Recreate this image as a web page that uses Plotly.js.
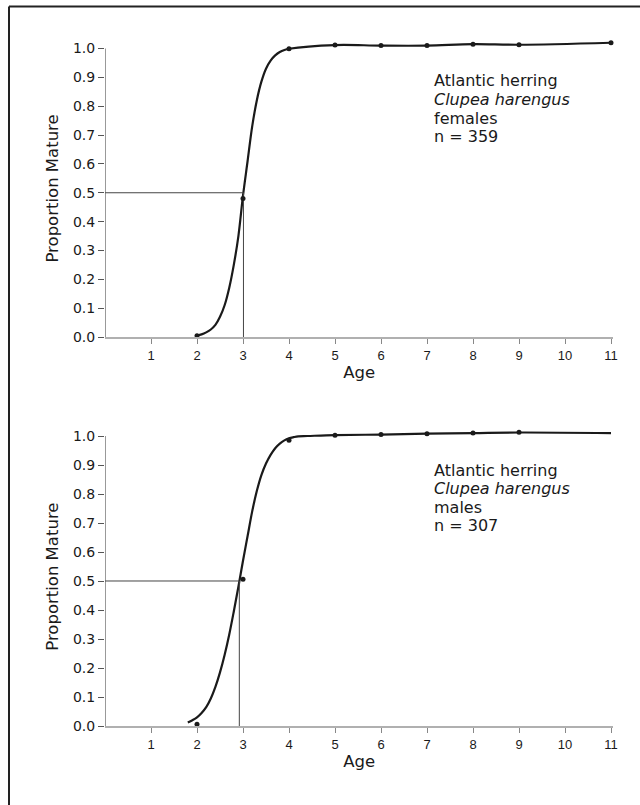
<!DOCTYPE html>
<html><head><meta charset="utf-8">
<script src="https://cdn.plot.ly/plotly-3.0.1.min.js"></script>
<style>html,body{margin:0;padding:0;background:#fff}</style>
</head><body><div id="chart" style="width:640px;height:805px"></div>
<script>
// ---- data ----
const ageTicks = [1,2,3,4,5,6,7,8,9,10,11];
const propTicks = [0,0.1,0.2,0.3,0.4,0.5,0.6,0.7,0.8,0.9,1.0];
const propTickLabels = ['0.0','0.1','0.2','0.3','0.4','0.5','0.6','0.7','0.8','0.9','1.0'];

// females (top panel): observed proportions
const femaleAge  = [2, 3, 4, 5, 6, 7, 8, 9, 11];
const femaleProp = [0.004, 0.48, 0.999, 1.012, 1.010, 1.010, 1.015, 1.013, 1.02];
// fitted maturity curve
const femaleFitAge  = [2.0, 2.1, 2.2, 2.3, 2.4, 2.5, 2.6, 2.7, 2.8, 2.9, 3.0, 3.1, 3.2, 3.3, 3.4, 3.5, 3.6, 3.7, 3.8, 3.9, 4.0, 5, 6, 7, 8, 9, 11];
const femaleFitProp = [0.005, 0.009, 0.016, 0.026, 0.042, 0.07, 0.11, 0.17, 0.25, 0.35, 0.49, 0.61, 0.73, 0.82, 0.885, 0.93, 0.958, 0.976, 0.988, 0.995, 0.999, 1.012, 1.010, 1.010, 1.015, 1.013, 1.02];
const femaleA50 = 3.01;
const femaleLabel = ['Atlantic herring', '<i>Clupea harengus</i>', 'females', 'n = 359'];

// males (bottom panel): observed proportions
const maleAge  = [2, 3, 4, 5, 6, 7, 8, 9];
const maleProp = [0.006, 0.506, 0.985, 1.003, 1.005, 1.008, 1.010, 1.013];
// fitted maturity curve
const maleFitAge  = [1.8, 1.9, 2.0, 2.1, 2.2, 2.3, 2.4, 2.5, 2.6, 2.7, 2.8, 2.9, 3.0, 3.1, 3.2, 3.3, 3.4, 3.5, 3.6, 3.7, 3.8, 3.9, 4.0, 4.1, 4.2, 4.4, 5, 6, 7, 8, 9, 11];
const maleFitProp = [0.012, 0.02, 0.03, 0.045, 0.065, 0.095, 0.135, 0.185, 0.245, 0.315, 0.395, 0.48, 0.57, 0.655, 0.74, 0.81, 0.865, 0.905, 0.935, 0.958, 0.974, 0.985, 0.992, 0.996, 0.999, 1.0, 1.003, 1.005, 1.008, 1.010, 1.012, 1.01];
const maleA50 = 2.92;
const maleLabel = ['Atlantic herring', '<i>Clupea harengus</i>', 'males', 'n = 307'];

const halfMature = 0.5;

// ---- styling ----
const FONT = 'DejaVu Sans, Liberation Sans, Arial, sans-serif';
const XFONT = 'Liberation Sans, Arial, Helvetica, sans-serif';
const INK = '#1a1a1a';

function panelTraces(fitX, fitY, ptX, ptY, a50, xa, ya) {
  return [
    {x: fitX, y: fitY, xaxis: xa, yaxis: ya, mode: 'lines', type: 'scatter',
     line: {color: INK, width: 2.2, shape: 'spline', smoothing: 1}, hoverinfo: 'skip'},
    {x: [0, a50, a50], y: [halfMature, halfMature, 0], xaxis: xa, yaxis: ya, mode: 'lines', type: 'scatter',
     line: {color: '#444', width: 1}, hoverinfo: 'skip'},
    {x: ptX, y: ptY, xaxis: xa, yaxis: ya, mode: 'markers', type: 'scatter', cliponaxis: false,
     marker: {color: INK, size: 5}}
  ];
}

const data = [
  ...panelTraces(femaleFitAge, femaleFitProp, femaleAge, femaleProp, femaleA50, 'x', 'y'),
  ...panelTraces(maleFitAge, maleFitProp, maleAge, maleProp, maleA50, 'x2', 'y2')
];

const xDomain = [105/640, (105 + 11.05*46)/640];
const yRange = [0, 1.03];
const topDom = [1 - 337/805, 1 - (337 - 1.03*288.5)/805];
const botDom = [1 - 726/805, 1 - (726 - 1.03*290)/805];

function xAxis(anchor) {
  return {
    domain: xDomain, anchor: anchor, range: [0, 11.05],
    tickmode: 'array', tickvals: ageTicks,
    ticks: 'outside', ticklen: 5, tickcolor: '#888', tickwidth: 1,
    showline: true, linecolor: '#b0b0b0', linewidth: 2,
    showgrid: false, zeroline: false,
    tickfont: {family: XFONT, size: 13, color: INK},
    title: {text: 'Age', font: {family: FONT, size: 16.5, color: INK}, standoff: 5}
  };
}
function yAxis(anchor, dom) {
  return {
    domain: dom, anchor: anchor, range: yRange,
    tickmode: 'array', tickvals: propTicks, ticktext: propTickLabels,
    ticks: 'outside', ticklen: 6, tickcolor: '#555', tickwidth: 1,
    showline: false, showgrid: false, zeroline: false,
    tickfont: {family: FONT, size: 14, color: INK},
    title: {text: 'Proportion Mature', font: {family: FONT, size: 16.5, color: INK}, standoff: 10}
  };
}

function labelAnns(lines, topPx) {
  return lines.map((t, i) => ({
    text: t, xref: 'paper', yref: 'paper',
    x: 433/640, y: 1 - (topPx + i*18.6)/805,
    xanchor: 'left', yanchor: 'middle', showarrow: false, borderpad: 0,
    font: {family: FONT, size: 16, color: INK}
  }));
}

const layout = {
  width: 640, height: 805,
  margin: {l: 0, r: 0, t: 0, b: 0},
  paper_bgcolor: '#fff', plot_bgcolor: 'rgba(0,0,0,0)',
  showlegend: false,
  xaxis: xAxis('y'), yaxis: yAxis('x', topDom),
  xaxis2: xAxis('y2'), yaxis2: yAxis('x2', botDom),
  annotations: [
    ...labelAnns(femaleLabel, 81),
    ...labelAnns(maleLabel, 470)
  ],
  shapes: [
    // y-axis lines (0 to 1.0)
    {type: 'line', xref: 'x', yref: 'y', x0: 0, x1: 0, y0: 0, y1: 1, line: {color: '#555', width: 1.2}},
    {type: 'line', xref: 'x2', yref: 'y2', x0: 0, x1: 0, y0: 0, y1: 1, line: {color: '#555', width: 1.2}},
    // figure frame (top and left edges)
    {type: 'line', xref: 'paper', yref: 'paper', x0: 9/640, x1: 1, y0: 1 - 6.5/805, y1: 1 - 6.5/805, line: {color: '#222', width: 2}},
    {type: 'line', xref: 'paper', yref: 'paper', x0: 9/640, x1: 9/640, y0: 0, y1: 1 - 6.5/805, line: {color: '#222', width: 2}}
  ]
};

Plotly.newPlot('chart', data, layout, {displayModeBar: false, staticPlot: true});
</script>
</body></html>
